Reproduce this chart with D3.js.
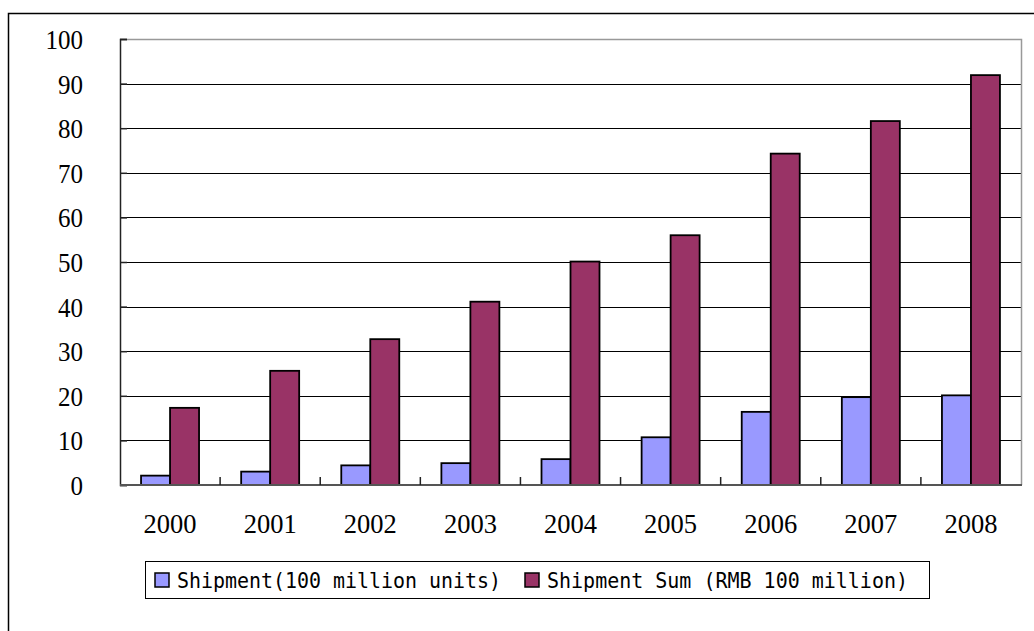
<!DOCTYPE html>
<html>
<head>
<meta charset="utf-8">
<script src="https://cdn.jsdelivr.net/npm/d3@7"></script>
<style>
  body { margin: 0; background: #fff; }
  svg { display: block; }
</style>
</head>
<body>
<div id="chart"></div>
<script>
// chart data
const years = ['2000', '2001', '2002', '2003', '2004', '2005', '2006', '2007', '2008'];
const shipment = [2.1, 3.0, 4.4, 4.9, 5.8, 10.7, 16.4, 19.7, 20.1];
const shipmentSum = [17.3, 25.6, 32.7, 41.1, 50.1, 56.0, 74.3, 81.6, 91.9];
const seriesNames = ['Shipment(100 million units)', 'Shipment Sum (RMB 100 million)'];
const yTicks = [0, 10, 20, 30, 40, 50, 60, 70, 80, 90, 100];

const width = 1034;
const height = 631;
const plot = { left: 120, top: 39, right: 1021, bottom: 485 };
const colors = ['#9999ff', '#993366'];
const serif = '"Liberation Serif", "DejaVu Serif", serif';

const svg = d3.select('#chart')
    .append('svg')
    .attr('width', width)
    .attr('height', height);

// outer frame (runs off the right and bottom edges)
svg.append('rect')
    .attr('x', 8.5)
    .attr('y', 13.5)
    .attr('width', width + 20)
    .attr('height', height + 20)
    .attr('fill', 'none')
    .attr('stroke', '#000')
    .attr('stroke-width', 1.5);

const x = d3.scaleBand()
    .domain(years)
    .range([plot.left, plot.right]);

const inner = d3.scaleBand()
    .domain([0, 1])
    .range([0, 58]);

const y = d3.scaleLinear()
    .domain([0, 100])
    .range([plot.bottom, plot.top]);

// gridlines
svg.append('g')
    .selectAll('line')
    .data(yTicks.filter(d => d > 0 && d < 100))
    .enter()
    .append('line')
    .attr('x1', plot.left)
    .attr('x2', plot.right)
    .attr('y1', d => Math.round(y(d)) + 0.5)
    .attr('y2', d => Math.round(y(d)) + 0.5)
    .attr('stroke', '#000')
    .attr('stroke-width', 1);

// plot area border (top/right in grey)
svg.append('path')
    .attr('d', `M${plot.left},${plot.top + 0.5}H${plot.right + 0.5}V${plot.bottom}`)
    .attr('fill', 'none')
    .attr('stroke', '#999')
    .attr('stroke-width', 1.5);

// bars
const groups = [shipment, shipmentSum];
groups.forEach((vals, s) => {
    svg.append('g')
        .selectAll('rect')
        .data(vals)
        .enter()
        .append('rect')
        .attr('x', (d, i) => x(years[i]) + x.bandwidth() / 2 - 29 + inner(s))
        .attr('y', d => y(d))
        .attr('width', inner.bandwidth())
        .attr('height', d => y(0) - y(d))
        .attr('fill', colors[s])
        .attr('stroke', '#000')
        .attr('stroke-width', 1.8);
});

// y axis, ticks inside
const yAxis = svg.append('g')
    .attr('transform', `translate(${plot.left},0)`)
    .call(d3.axisRight(y).tickValues(yTicks).tickSize(7).tickFormat(''));
yAxis.select('.domain').attr('stroke', '#222').attr('stroke-width', 1.5);
yAxis.selectAll('.tick line').attr('stroke', '#222').attr('stroke-width', 1.5);

svg.append('g')
    .selectAll('text')
    .data(yTicks)
    .enter()
    .append('text')
    .attr('x', 83)
    .attr('y', d => y(d) + 10)
    .attr('text-anchor', 'end')
    .attr('textLength', d => String(d).length * 12.5)
    .attr('lengthAdjust', 'spacingAndGlyphs')
    .style('font-family', serif)
    .style('font-size', '28px')
    .text(d => d);

// x axis, ticks between categories pointing up
const xBounds = years.map(d => x(d) + x.bandwidth()).slice(0, -1);
svg.append('line')
    .attr('x1', plot.left)
    .attr('x2', plot.right + 1)
    .attr('y1', plot.bottom)
    .attr('y2', plot.bottom)
    .attr('stroke', '#555')
    .attr('stroke-width', 2);
svg.append('g')
    .selectAll('line')
    .data(xBounds)
    .enter()
    .append('line')
    .attr('x1', d => d)
    .attr('x2', d => d)
    .attr('y1', plot.bottom - 8)
    .attr('y2', plot.bottom)
    .attr('stroke', '#222')
    .attr('stroke-width', 1.5);

svg.append('g')
    .selectAll('text')
    .data(years)
    .enter()
    .append('text')
    .attr('x', d => x(d) + x.bandwidth() / 2)
    .attr('y', 533)
    .attr('text-anchor', 'middle')
    .attr('textLength', 53)
    .attr('lengthAdjust', 'spacingAndGlyphs')
    .style('font-family', serif)
    .style('font-size', '28px')
    .text(d => d);

// legend
const legend = svg.append('g');
legend.append('rect')
    .attr('x', 145.5)
    .attr('y', 561.5)
    .attr('width', 784)
    .attr('height', 37)
    .attr('fill', '#fff')
    .attr('stroke', '#000')
    .attr('stroke-width', 1);

const legendX = [155, 525];
const legendLen = [324, 361];
seriesNames.forEach((name, s) => {
    legend.append('rect')
        .attr('x', legendX[s])
        .attr('y', 573)
        .attr('width', 14)
        .attr('height', 14)
        .attr('fill', colors[s])
        .attr('stroke', '#000')
        .attr('stroke-width', 1.5);
    legend.append('text')
        .attr('x', legendX[s] + 22)
        .attr('y', 588)
        .attr('textLength', legendLen[s])
        .attr('lengthAdjust', 'spacingAndGlyphs')
        .style('font-family', '"DejaVu Sans Mono", "Liberation Mono", monospace')
        .style('font-size', '22px')
        .text(name);
});
</script>
</body>
</html>
